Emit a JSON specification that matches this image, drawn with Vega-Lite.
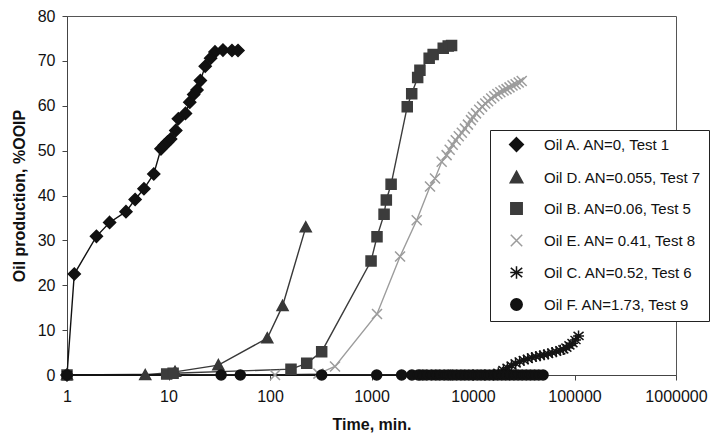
{
  "$schema": "https://vega.github.io/schema/vega-lite/v6.json",
  "width": 609,
  "height": 359,
  "autosize": "none",
  "padding": {"left": 67, "top": 16, "right": 34, "bottom": 69},
  "background": "white",
  "config": {
    "font": "Liberation Sans",
    "view": {"stroke": "#555", "strokeWidth": 1}
  },
  "data": {
    "values": [
      {"oil": "A", "t": 1, "v": 0},
      {"oil": "A", "t": 1.18, "v": 22.5},
      {"oil": "A", "t": 1.95, "v": 30.9},
      {"oil": "A", "t": 2.63, "v": 34.0},
      {"oil": "A", "t": 3.81, "v": 36.4},
      {"oil": "A", "t": 4.69, "v": 39.1},
      {"oil": "A", "t": 5.73, "v": 41.5},
      {"oil": "A", "t": 7.16, "v": 44.8},
      {"oil": "A", "t": 8.43, "v": 50.4},
      {"oil": "A", "t": 9.08, "v": 51.2},
      {"oil": "A", "t": 9.78, "v": 51.9},
      {"oil": "A", "t": 10.5, "v": 52.6},
      {"oil": "A", "t": 11.8, "v": 54.5},
      {"oil": "A", "t": 12.5, "v": 57.1},
      {"oil": "A", "t": 14.7, "v": 58.3},
      {"oil": "A", "t": 16.2, "v": 60.8},
      {"oil": "A", "t": 17.7, "v": 62.5},
      {"oil": "A", "t": 19.1, "v": 63.5},
      {"oil": "A", "t": 20.6, "v": 65.6},
      {"oil": "A", "t": 23.0, "v": 68.8},
      {"oil": "A", "t": 26.0, "v": 70.6},
      {"oil": "A", "t": 28.7, "v": 72.0},
      {"oil": "A", "t": 34.4, "v": 72.4},
      {"oil": "A", "t": 42.2, "v": 72.3},
      {"oil": "A", "t": 48.4, "v": 72.3},

      {"oil": "D", "t": 1, "v": 0},
      {"oil": "D", "t": 5.9, "v": 0},
      {"oil": "D", "t": 11.6, "v": 0.7},
      {"oil": "D", "t": 31, "v": 2.2},
      {"oil": "D", "t": 94, "v": 8.2},
      {"oil": "D", "t": 133, "v": 15.4},
      {"oil": "D", "t": 225, "v": 32.9},

      {"oil": "B", "t": 1, "v": 0},
      {"oil": "B", "t": 9.6, "v": 0.2},
      {"oil": "B", "t": 11.1, "v": 0.4},
      {"oil": "B", "t": 161, "v": 1.3},
      {"oil": "B", "t": 230, "v": 2.6},
      {"oil": "B", "t": 323, "v": 5.2},
      {"oil": "B", "t": 990, "v": 25.4},
      {"oil": "B", "t": 1133, "v": 30.8},
      {"oil": "B", "t": 1330, "v": 35.8},
      {"oil": "B", "t": 1400, "v": 39.0},
      {"oil": "B", "t": 1560, "v": 42.5},
      {"oil": "B", "t": 2250, "v": 59.8},
      {"oil": "B", "t": 2490, "v": 62.7},
      {"oil": "B", "t": 2850, "v": 66.3},
      {"oil": "B", "t": 3000, "v": 67.9},
      {"oil": "B", "t": 3700, "v": 70.6},
      {"oil": "B", "t": 4050, "v": 71.4},
      {"oil": "B", "t": 5090, "v": 72.8},
      {"oil": "B", "t": 5700, "v": 73.3},
      {"oil": "B", "t": 6150, "v": 73.4},

      {"oil": "E", "t": 112, "v": 0},
      {"oil": "E", "t": 300, "v": 0.3},
      {"oil": "E", "t": 437, "v": 1.9},
      {"oil": "E", "t": 1133, "v": 13.6},
      {"oil": "E", "t": 1911, "v": 26.4},
      {"oil": "E", "t": 2788, "v": 34.5},
      {"oil": "E", "t": 3770, "v": 42.0},
      {"oil": "E", "t": 4225, "v": 43.8},
      {"oil": "E", "t": 4915, "v": 47.5},
      {"oil": "E", "t": 5495, "v": 49.0},
      {"oil": "E", "t": 5890, "v": 50.2},
      {"oil": "E", "t": 6310, "v": 51.3},
      {"oil": "E", "t": 6760, "v": 52.3},
      {"oil": "E", "t": 7240, "v": 53.2},
      {"oil": "E", "t": 7760, "v": 54.0},
      {"oil": "E", "t": 8320, "v": 54.9},
      {"oil": "E", "t": 8910, "v": 55.8},
      {"oil": "E", "t": 9550, "v": 56.8},
      {"oil": "E", "t": 10000, "v": 57.5},
      {"oil": "E", "t": 10700, "v": 58.3},
      {"oil": "E", "t": 11500, "v": 59.1},
      {"oil": "E", "t": 12300, "v": 59.8},
      {"oil": "E", "t": 13200, "v": 60.5},
      {"oil": "E", "t": 14100, "v": 61.0},
      {"oil": "E", "t": 15100, "v": 61.6},
      {"oil": "E", "t": 16200, "v": 62.1},
      {"oil": "E", "t": 17400, "v": 62.6},
      {"oil": "E", "t": 18600, "v": 63.0},
      {"oil": "E", "t": 20000, "v": 63.4},
      {"oil": "E", "t": 21400, "v": 63.7},
      {"oil": "E", "t": 22900, "v": 64.1},
      {"oil": "E", "t": 24500, "v": 64.5},
      {"oil": "E", "t": 26300, "v": 64.8},
      {"oil": "E", "t": 28200, "v": 65.2},
      {"oil": "E", "t": 30200, "v": 65.5},

      {"oil": "C", "t": 1, "v": 0},
      {"oil": "C", "t": 3000, "v": 0},
      {"oil": "C", "t": 6000, "v": 0},
      {"oil": "C", "t": 10000, "v": 0},
      {"oil": "C", "t": 13000, "v": 0},
      {"oil": "C", "t": 15850, "v": 0},
      {"oil": "C", "t": 17780, "v": 0.5},
      {"oil": "C", "t": 19950, "v": 1.1},
      {"oil": "C", "t": 21880, "v": 1.6},
      {"oil": "C", "t": 23990, "v": 2.1},
      {"oil": "C", "t": 26300, "v": 2.6},
      {"oil": "C", "t": 28840, "v": 3.0},
      {"oil": "C", "t": 31620, "v": 3.3},
      {"oil": "C", "t": 34670, "v": 3.6},
      {"oil": "C", "t": 38020, "v": 3.9},
      {"oil": "C", "t": 41690, "v": 4.1},
      {"oil": "C", "t": 45710, "v": 4.3},
      {"oil": "C", "t": 50120, "v": 4.5},
      {"oil": "C", "t": 54950, "v": 4.7},
      {"oil": "C", "t": 60260, "v": 5.0},
      {"oil": "C", "t": 66070, "v": 5.2},
      {"oil": "C", "t": 72440, "v": 5.5},
      {"oil": "C", "t": 77620, "v": 5.7},
      {"oil": "C", "t": 83180, "v": 6.1},
      {"oil": "C", "t": 89130, "v": 6.6},
      {"oil": "C", "t": 95500, "v": 7.1},
      {"oil": "C", "t": 102300, "v": 7.8},
      {"oil": "C", "t": 109600, "v": 8.7},

      {"oil": "F", "t": 1, "v": 0},
      {"oil": "F", "t": 33, "v": 0},
      {"oil": "F", "t": 51, "v": 0},
      {"oil": "F", "t": 323, "v": 0},
      {"oil": "F", "t": 1125, "v": 0},
      {"oil": "F", "t": 1980, "v": 0},
      {"oil": "F", "t": 2500, "v": 0},
      {"oil": "F", "t": 2900, "v": 0},
      {"oil": "F", "t": 3200, "v": 0},
      {"oil": "F", "t": 3500, "v": 0},
      {"oil": "F", "t": 3900, "v": 0},
      {"oil": "F", "t": 4300, "v": 0},
      {"oil": "F", "t": 4700, "v": 0},
      {"oil": "F", "t": 5200, "v": 0},
      {"oil": "F", "t": 5700, "v": 0},
      {"oil": "F", "t": 6300, "v": 0},
      {"oil": "F", "t": 6900, "v": 0},
      {"oil": "F", "t": 7600, "v": 0},
      {"oil": "F", "t": 8300, "v": 0},
      {"oil": "F", "t": 9100, "v": 0},
      {"oil": "F", "t": 10000, "v": 0},
      {"oil": "F", "t": 11000, "v": 0},
      {"oil": "F", "t": 12000, "v": 0},
      {"oil": "F", "t": 13200, "v": 0},
      {"oil": "F", "t": 14500, "v": 0},
      {"oil": "F", "t": 16000, "v": 0},
      {"oil": "F", "t": 17500, "v": 0},
      {"oil": "F", "t": 19200, "v": 0},
      {"oil": "F", "t": 21000, "v": 0},
      {"oil": "F", "t": 23000, "v": 0},
      {"oil": "F", "t": 25300, "v": 0},
      {"oil": "F", "t": 27800, "v": 0},
      {"oil": "F", "t": 30500, "v": 0},
      {"oil": "F", "t": 33500, "v": 0},
      {"oil": "F", "t": 36800, "v": 0},
      {"oil": "F", "t": 40400, "v": 0},
      {"oil": "F", "t": 44400, "v": 0},
      {"oil": "F", "t": 49000, "v": 0}
    ]
  },
  "encoding": {
    "x": {
      "field": "t",
      "type": "quantitative",
      "scale": {"type": "log", "domain": [1, 1000000]},
      "axis": {
        "title": "Time, min.",
        "values": [1, 10, 100, 1000, 10000, 100000, 1000000],
        "format": "d",
        "grid": false,
        "labelFontSize": 16,
        "labelColor": "#111",
        "labelFlush": false,
        "labelPadding": 8,
        "tickSize": 5,
        "tickColor": "#444",
        "domainColor": "#444",
        "titleFontSize": 16,
        "titleFontWeight": "bold",
        "titleColor": "#111",
        "titlePadding": 12
      }
    },
    "y": {
      "field": "v",
      "type": "quantitative",
      "scale": {"domain": [0, 80]},
      "axis": {
        "title": "Oil production, %OOIP",
        "values": [0, 10, 20, 30, 40, 50, 60, 70, 80],
        "grid": false,
        "labelFontSize": 16,
        "labelColor": "#111",
        "labelFlush": false,
        "labelPadding": 7,
        "tickSize": 5,
        "tickColor": "#444",
        "domainColor": "#444",
        "titleFontSize": 16,
        "titleFontWeight": "bold",
        "titleColor": "#111",
        "titlePadding": 10
      }
    }
  },
  "layer": [
    {
      "mark": {"type": "line", "strokeWidth": 1.4},
      "encoding": {
        "stroke": {
          "field": "oil",
          "type": "nominal",
          "scale": {
            "domain": ["A", "D", "B", "E", "C", "F"],
            "range": ["#111111", "#383838", "#3c3c3c", "#9c9c9c", "#151515", "#111111"]
          }
        },
        "order": {"field": "t"}
      }
    },
    {
      "mark": {"type": "point", "filled": true, "opacity": 1, "strokeWidth": 1.5, "size": 100},
      "encoding": {
        "shape": {
          "field": "oil",
          "type": "nominal",
          "scale": {
            "domain": ["A", "D", "B", "E", "C", "F"],
            "range": [
              "M0,-1.2L1.2,0L0,1.2L-1.2,0Z",
              "M0,-1.1L1.1,0.9L-1.1,0.9Z",
              "M-1,-1L1,-1L1,1L-1,1Z",
              "M-1,-1L1,1M-1,1L1,-1",
              "M0,-1.1L0,1.1M-1,-0.8L1,0.8M-1,0.8L1,-0.8M-1.1,0L1.1,0",
              "circle"
            ]
          }
        },
        "fill": {
          "field": "oil",
          "type": "nominal",
          "scale": {
            "domain": ["A", "D", "B", "E", "C", "F"],
            "range": ["#111111", "#383838", "#3c3c3c", "#9c9c9c", "#151515", "#111111"]
          },
          "legend": {
            "orient": "none",
            "legendX": 423,
            "legendY": 114,
            "title": null,
            "fillColor": "white",
            "strokeColor": "#222",
            "padding": 7,
            "rowPadding": 13,
            "labelFontSize": 15,
            "labelColor": "#111",
            "symbolSize": 130,
            "symbolOffset": 12,
            "labelOffset": 20,
            "symbolStrokeWidth": 1.5,
            "labelExpr": "{'A': 'Oil A. AN=0, Test 1', 'D': 'Oil D. AN=0.055, Test 7', 'B': 'Oil B. AN=0.06, Test 5', 'E': 'Oil E. AN= 0.41, Test 8', 'C': 'Oil C. AN=0.52, Test 6', 'F': 'Oil F. AN=1.73, Test 9'}[datum.value]"
          }
        },
        "stroke": {"field": "oil", "type": "nominal"}
      }
    }
  ]
}
